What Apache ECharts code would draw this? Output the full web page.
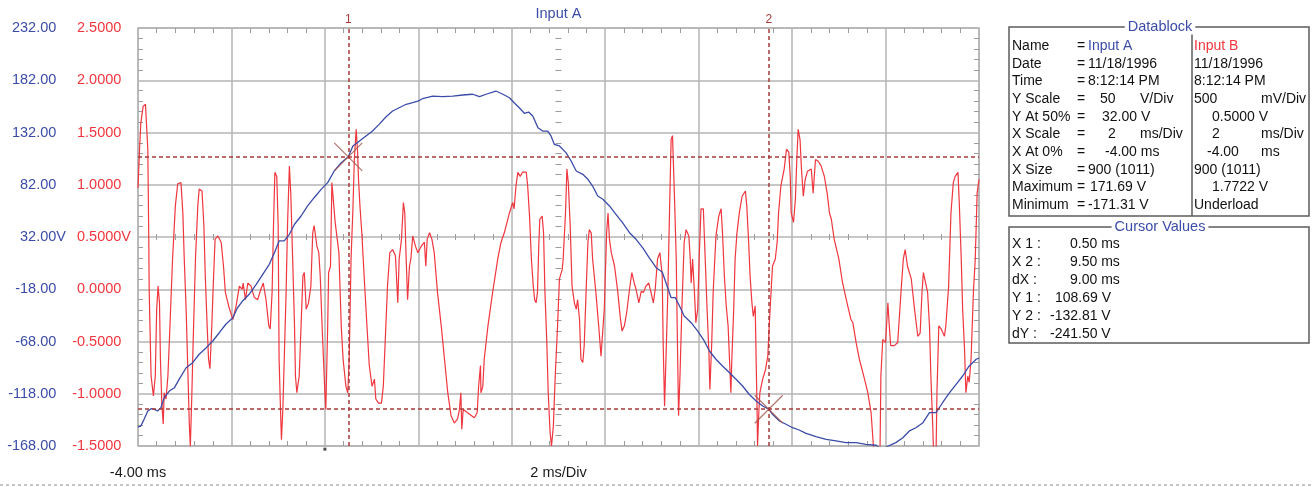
<!DOCTYPE html>
<html lang="en">
<head>
<meta charset="UTF-8">
<title>Input A / Input B</title>
<script src="https://cdn.jsdelivr.net/npm/echarts@6/dist/echarts.min.js"></script>
<style>
    html, body {
        margin: 0;
        padding: 0;
        background: #fff;
    }
    #chart {
        width: 1312px;
        height: 487px;
    }
</style>
</head>
<body>
<div id="chart"></div>
<script>
    // time in ms, Input A in V
    var inputA = [
        [-4.00,-149.8],[-3.94,-148.9],[-3.87,-142.5],[-3.79,-134.5],[-3.72,-132.3],[-3.65,-132.9],[-3.58,-134.5],
        [-3.51,-131.4],[-3.44,-121.8],[-3.33,-115.4],[-3.22,-112.2],[-3.12,-104.2],[-2.97,-93.1],[-2.83,-88.3],
        [-2.69,-80.2],[-2.54,-73.9],[-2.40,-67.5],[-2.26,-59.6],[-2.12,-51.5],[-1.97,-45.2],[-1.87,-35.7],
        [-1.76,-29.2],[-1.62,-22.8],[-1.47,-13.3],[-1.33,-3.7],[-1.19,5.9],[-1.08,17.0],[-0.98,28.2],[-0.87,28.2],
        [-0.76,34.6],[-0.65,44.2],[-0.51,52.1],[-0.37,61.7],[-0.23,69.6],[-0.08,77.6],[0.06,84.0],[0.20,95.2],
        [0.35,103.1],[0.50,108.69],[0.60,119.1],[0.74,123.9],[0.88,128.7],[1.02,133.4],[1.16,139.8],[1.31,147.1],
        [1.45,152.6],[1.59,155.7],[1.74,159.0],[1.88,160.5],[1.99,162.1],[2.09,164.3],[2.31,166.9],[2.52,166.3],
        [2.74,166.9],[2.95,167.9],[3.16,168.6],[3.31,166.3],[3.45,168.6],[3.66,171.69],[3.81,168.6],[3.95,165.3],
        [4.05,160.5],[4.16,155.7],[4.27,150.4],[4.36,151.6],[4.45,147.8],[4.56,136.6],[4.66,133.4],[4.77,133.4],
        [4.84,128.7],[4.91,120.7],[5.02,119.1],[5.16,112.7],[5.27,104.7],[5.38,95.2],[5.52,92.0],[5.63,87.2],
        [5.73,80.8],[5.84,71.2],[5.95,68.1],[6.09,61.7],[6.23,53.7],[6.37,45.7],[6.52,36.1],[6.66,29.8],
        [6.80,21.8],[6.94,12.2],[7.09,2.6],[7.22,-1.5],[7.30,-11.7],[7.41,-26.1],[7.50,-26.1],[7.59,-34.0],
        [7.69,-43.6],[7.84,-50.0],[7.98,-58.0],[8.12,-67.5],[8.23,-77.1],[8.37,-85.0],[8.51,-91.4],[8.66,-97.9],
        [8.80,-104.2],[8.94,-110.6],[9.08,-118.5],[9.23,-124.9],[9.37,-129.7],[9.50,-132.81],[9.58,-137.7],
        [9.73,-144.1],[9.87,-147.2],[10.01,-150.5],[10.15,-152.7],[10.30,-155.9],[10.51,-159.1],[10.73,-161.6],
        [10.94,-163.2],[11.15,-164.8],[11.37,-164.8],[11.58,-166.4],[11.80,-167.3],[11.90,-171.31],[12.01,-169.0],
        [12.22,-164.8],[12.37,-160.1],[12.51,-153.6],[12.65,-150.5],[12.80,-145.7],[12.94,-136.1],[13.08,-136.1],
        [13.22,-126.6],[13.37,-117.0],[13.51,-109.0],[13.65,-101.0],[13.79,-91.4],[13.94,-85.0],[14.00,-83.8]
    ];

    // time in ms, Input B in V
    var inputB = [
        [-4.00,0.97],[-3.97,1.31],[-3.94,1.59],[-3.89,1.75],[-3.84,1.77],[-3.79,1.34],[-3.77,0.51],[-3.76,-0.03],
        [-3.72,-0.83],[-3.67,-1.02],[-3.63,-0.83],[-3.60,-0.19],[-3.57,0.03],[-3.54,-0.13],[-3.52,-0.67],[-3.49,-1.09],
        [-3.46,-1.29],[-3.44,-0.99],[-3.40,-1.05],[-3.36,-0.83],[-3.33,-0.51],[-3.26,0.29],[-3.20,0.80],[-3.15,1.01],
        [-3.08,1.02],[-3.04,0.73],[-3.01,0.29],[-2.97,-0.19],[-2.94,-0.67],[-2.90,-1.31],[-2.88,-1.50],[-2.85,-1.05],
        [-2.82,-0.51],[-2.77,0.29],[-2.72,0.80],[-2.69,0.96],[-2.63,0.94],[-2.59,0.61],[-2.56,0.13],[-2.52,-0.35],
        [-2.49,-0.67],[-2.46,-0.76],[-2.42,-0.35],[-2.39,0.03],[-2.35,0.48],[-2.29,0.51],[-2.22,0.45],[-2.17,0.22],
        [-2.13,-0.03],[-2.06,-0.16],[-1.97,-0.29],[-1.90,-0.16],[-1.83,0.03],[-1.77,0.00],[-1.75,0.06],[-1.70,-0.10],
        [-1.65,0.06],[-1.58,0.03],[-1.51,-0.08],[-1.44,-0.10],[-1.37,0.00],[-1.32,0.06],[-1.26,-0.10],[-1.20,-0.35],
        [-1.17,-0.38],[-1.13,-0.03],[-1.10,0.61],[-1.07,1.12],[-1.03,1.08],[-1.00,0.61],[-0.98,-0.67],[-0.95,-1.15],
        [-0.93,-1.44],[-0.90,-1.15],[-0.87,-0.67],[-0.83,-0.03],[-0.80,0.61],[-0.76,1.18],[-0.73,0.92],[-0.69,0.29],
        [-0.65,-0.35],[-0.63,-0.83],[-0.60,-0.99],[-0.55,-0.83],[-0.51,-0.35],[-0.47,0.13],[-0.44,0.16],[-0.40,-0.19],
        [-0.35,-0.13],[-0.30,0.03],[-0.26,0.54],[-0.23,0.61],[-0.17,0.41],[-0.13,0.35],[-0.10,0.13],[-0.06,-0.35],
        [-0.03,-0.67],[0.00,-0.99],[0.02,-1.15],[0.06,-0.35],[0.08,0.16],[0.12,0.22],[0.15,1.02],[0.18,1.02],
        [0.22,0.64],[0.25,0.64],[0.30,0.35],[0.35,-0.35],[0.39,-0.67],[0.45,-0.93],[0.49,-0.99],[0.52,-0.67],
        [0.56,0.29],[0.60,0.77],[0.63,1.24],[0.67,1.53],[0.70,1.31],[0.72,1.05],[0.75,0.80],[0.79,0.54],
        [0.84,0.13],[0.90,-0.35],[0.95,-0.73],[1.01,-0.93],[1.06,-0.86],[1.09,-1.05],[1.15,-1.09],[1.21,-1.09],
        [1.25,-0.93],[1.29,-0.51],[1.34,0.03],[1.39,0.35],[1.45,0.38],[1.51,0.32],[1.56,-0.13],[1.59,0.29],
        [1.64,0.48],[1.68,0.83],[1.71,0.73],[1.74,0.29],[1.77,-0.10],[1.81,0.22],[1.84,0.29],[1.88,0.51],
        [1.94,0.41],[1.99,0.35],[2.06,0.41],[2.13,0.45],[2.16,0.22],[2.19,0.48],[2.24,0.54],[2.29,0.48],
        [2.34,0.35],[2.41,-0.03],[2.49,-0.35],[2.56,-0.67],[2.63,-0.99],[2.70,-1.21],[2.77,-1.28],[2.84,-1.24],
        [2.88,-1.15],[2.91,-0.99],[2.93,-1.34],[2.96,-1.15],[3.02,-1.17],[3.11,-1.20],[3.20,-1.23],[3.26,-1.18],
        [3.29,-0.93],[3.33,-0.73],[3.34,-0.99],[3.38,-0.93],[3.41,-0.67],[3.49,-0.35],[3.59,-0.03],[3.70,0.29],
        [3.77,0.45],[3.84,0.54],[3.95,0.73],[4.02,0.83],[4.05,0.77],[4.09,0.99],[4.13,1.12],[4.18,1.08],
        [4.23,1.12],[4.31,1.12],[4.34,0.99],[4.38,0.70],[4.42,0.29],[4.46,0.03],[4.49,-0.10],[4.52,-0.13],
        [4.55,-0.03],[4.58,0.45],[4.60,0.67],[4.65,0.70],[4.68,0.54],[4.71,-0.03],[4.75,-0.51],[4.78,-0.99],
        [4.82,-1.37],[4.85,-1.50],[4.89,-1.31],[4.93,-0.83],[4.98,-0.35],[5.02,0.10],[5.08,0.19],[5.10,0.29],
        [5.15,0.73],[5.18,1.15],[5.21,1.02],[5.25,0.61],[5.29,0.03],[5.34,-0.13],[5.38,-0.19],[5.41,-0.10],
        [5.45,-0.29],[5.48,-0.67],[5.52,-0.70],[5.55,-0.54],[5.59,-0.03],[5.63,0.45],[5.66,0.57],[5.70,0.54],
        [5.73,0.29],[5.80,-0.03],[5.86,-0.35],[5.91,-0.64],[5.95,-0.64],[5.98,-0.19],[6.03,0.54],[6.06,0.73],
        [6.09,0.48],[6.13,0.35],[6.20,0.22],[6.27,-0.03],[6.32,-0.26],[6.36,-0.40],[6.41,-0.35],[6.46,-0.22],
        [6.52,0.00],[6.57,0.16],[6.62,0.06],[6.66,0.00],[6.72,-0.13],[6.77,-0.02],[6.82,-0.03],[6.87,0.03],
        [6.93,0.06],[6.98,-0.03],[7.03,-0.13],[7.07,0.00],[7.12,0.29],[7.17,0.35],[7.22,0.13],[7.24,-0.51],
        [7.27,-1.12],[7.30,-0.67],[7.34,-0.03],[7.37,0.61],[7.41,1.43],[7.44,1.47],[7.48,0.92],[7.52,0.29],
        [7.54,-0.35],[7.57,-1.21],[7.60,-0.83],[7.64,-0.19],[7.69,0.45],[7.73,0.57],[7.79,0.51],[7.82,0.29],
        [7.84,0.06],[7.87,0.29],[7.91,-0.03],[7.94,-0.32],[7.98,-0.19],[8.01,0.29],[8.05,0.77],[8.10,0.77],
        [8.14,0.29],[8.18,-0.19],[8.22,-0.61],[8.24,-0.96],[8.28,-0.51],[8.31,-0.03],[8.37,0.51],[8.43,0.70],
        [8.48,0.77],[8.51,0.54],[8.55,0.13],[8.59,-0.16],[8.63,-0.35],[8.66,-0.67],[8.69,-0.99],[8.71,-0.67],
        [8.75,-0.19],[8.78,0.29],[8.82,0.54],[8.87,0.73],[8.93,0.89],[9.00,0.94],[9.03,0.80],[9.07,0.45],
        [9.10,0.13],[9.14,-0.13],[9.17,-0.26],[9.21,-0.16],[9.23,-0.67],[9.25,-1.15],[9.26,-1.50],[9.29,-1.15],
        [9.31,-0.99],[9.37,-0.86],[9.43,-0.77],[9.48,-0.64],[9.51,-0.35],[9.58,0.22],[9.64,0.29],[9.68,0.45],
        [9.71,0.73],[9.76,0.99],[9.83,1.15],[9.88,1.34],[9.93,1.31],[9.96,1.08],[9.98,0.73],[10.03,0.64],
        [10.07,0.86],[10.10,1.24],[10.13,1.53],[10.17,1.43],[10.20,1.15],[10.24,0.89],[10.28,1.05],[10.33,1.13],
        [10.41,1.15],[10.45,0.92],[10.50,1.24],[10.55,1.23],[10.62,1.18],[10.69,1.08],[10.75,0.92],[10.80,0.73],
        [10.84,0.67],[10.87,0.67],[10.90,0.48],[10.94,0.48],[11.00,0.29],[11.08,0.06],[11.19,-0.16],[11.26,-0.29],
        [11.30,-0.32],[11.37,-0.51],[11.44,-0.67],[11.55,-0.86],[11.62,-0.99],[11.69,-1.18],[11.74,-1.50],[11.80,-1.60],
        [11.88,-1.60],[11.90,-0.83],[11.94,-0.48],[12.00,-0.51],[12.05,-0.13],[12.08,-0.35],[12.11,-0.54],[12.19,-0.54],
        [12.26,-0.51],[12.33,-0.03],[12.38,0.29],[12.42,0.38],[12.47,0.22],[12.55,0.10],[12.62,-0.19],[12.69,-0.45],
        [12.74,-0.42],[12.78,-0.03],[12.81,0.16],[12.85,0.16],[12.90,-0.03],[12.94,-0.35],[12.97,-0.83],[13.01,-1.31],
        [13.03,-1.60],[13.08,-1.60],[13.10,-0.99],[13.14,-0.35],[13.19,-0.38],[13.26,-0.45],[13.29,-0.35],[13.35,0.03],
        [13.40,0.73],[13.45,1.02],[13.49,1.08],[13.55,1.12],[13.58,0.80],[13.62,0.29],[13.65,-0.19],[13.69,-0.57],
        [13.72,-0.99],[13.76,-0.83],[13.79,-0.89],[13.83,-0.67],[13.88,-0.03],[13.92,0.29],[13.96,0.92],[14.00,1.05]
    ];

    var blueTicks = [-168, -118, -68, -18, 32, 82, 132, 182, 232];
    var redTicks = [-1.5, -1.0, -0.5, 0.0, 0.5, 1.0, 1.5, 2.0, 2.5];
    var xLabelAt = [-4, 5];
    var xLabels = ['-4.00 ms', '2 ms/Div'];

    var cursorNames = ['1', '2'];
    var cursorX = [0.5, 9.5];
    var cursorY = [108.69, -132.81];
    var triggerAt = [0];

    var dbFields = ['Name', 'Date', 'Time', 'Y Scale', 'Y At 50%', 'X Scale', 'X At 0%', 'X Size', 'Maximum', 'Minimum'];
    var dbInputA = ['Input A', '11/18/1996', '8:12:14 PM', '50', '32.00 V', '2', '-4.00 ms', '900 (1011)', '171.69 V', '-171.31 V'];
    var dbUnitA = ['', '', '', 'V/Div', '', 'ms/Div', '', '', '', ''];
    var dbInputB = ['Input B', '11/18/1996', '8:12:14 PM', '500', '0.5000 V', '2', '-4.00', '900 (1011)', '1.7722 V', 'Underload'];
    var dbUnitB = ['', '', '', 'mV/Div', '', 'ms/Div', 'ms', '', '', ''];

    var cursorFields = ['X 1 :', 'X 2 :', 'dX :', 'Y 1 :', 'Y 2 :', 'dY :'];
    var cursorReadings = ['0.50 ms', '9.50 ms', '9.00 ms', '108.69 V', '-132.81 V', '-241.50 V'];

    var FONT = '"Liberation Sans", Arial, sans-serif';
    var FS = 14.5;
    var PANEL_FS = 14;
    var BLUE = '#3b4ca8';
    var RED = '#f0363e';
    var CURSOR = '#a83a3a';
    var GRID = '#b4b4b4';
    var TICK = '#9c9c9c';

    // layout of the side panel
    var dbValAX = [1088, 1088, 1088, 1100, 1102, 1108, 1105, 1088, 1090, 1088];
    var dbValBX = [1194, 1194, 1194, 1194, 1212, 1212, 1207, 1194, 1212, 1194];
    var cursorValX = [1070, 1070, 1070, 1055, 1050, 1050];

    function txt(x, y, s, color, align, size) {
        return {
            type: 'text', x: x, y: y, silent: true, z: 10,
            style: {
                text: s, fill: color || '#111', fontSize: size || PANEL_FS, fontFamily: FONT,
                align: align || 'left', verticalAlign: 'middle'
            }
        };
    }

    function sameScale(v, a) {
        return Math.abs(v - a) < 1e-9;
    }

    var graphics = [];
    graphics.push(txt(558.5, 14, 'Input A', BLUE, 'center', FS));

    // Datablock
    graphics.push({type: 'rect', silent: true, shape: {x: 1009, y: 27, width: 300, height: 189},
        style: {fill: 'none', stroke: '#5c5c5c', lineWidth: 1.5}});
    graphics.push({type: 'line', silent: true, shape: {x1: 1192, y1: 34, x2: 1192, y2: 216},
        style: {stroke: '#5c5c5c', lineWidth: 1.5}});
    for (var i = 0; i < dbFields.length; i++) {
        var y = 46 + i * 17.67;
        graphics.push(txt(1012, y, dbFields[i]));
        graphics.push(txt(1077, y, '='));
        graphics.push(txt(dbValAX[i], y, dbInputA[i], i === 0 ? BLUE : '#111'));
        if (dbUnitA[i]) graphics.push(txt(1140, y, dbUnitA[i]));
        graphics.push(txt(dbValBX[i], y, dbInputB[i], i === 0 ? RED : '#111'));
        if (dbUnitB[i]) graphics.push(txt(1261, y, dbUnitB[i]));
    }
    var head1 = txt(1160, 27, 'Datablock', BLUE, 'center', FS);
    head1.style.backgroundColor = '#fff';
    head1.style.padding = [0, 3];
    graphics.push(head1);

    // Cursor Values
    graphics.push({type: 'rect', silent: true, shape: {x: 1009, y: 227, width: 300, height: 116},
        style: {fill: 'none', stroke: '#5c5c5c', lineWidth: 1.5}});
    for (var j = 0; j < cursorFields.length; j++) {
        var yy = 244 + j * 18;
        graphics.push(txt(1012, yy, cursorFields[j]));
        graphics.push(txt(cursorValX[j], yy, cursorReadings[j]));
    }
    var head2 = txt(1160, 227, 'Cursor Values', BLUE, 'center', FS);
    head2.style.backgroundColor = '#fff';
    head2.style.padding = [0, 3];
    graphics.push(head2);

    // page separator
    graphics.push({type: 'line', silent: true, shape: {x1: 0, y1: 485, x2: 1312, y2: 485},
        style: {stroke: '#8c8c8c', lineWidth: 1, lineDash: [3, 3]}});

    var frameTicks = {show: true, splitNumber: 5, length: 5, lineStyle: {color: TICK, width: 1}};
    var centerTicks = {show: true, splitNumber: 5, length: 6, lineStyle: {color: TICK, width: 1}};

    var cursorLines = [];
    var cursorMarks = [];
    for (var k = 0; k < cursorX.length; k++) {
        cursorLines.push({xAxis: cursorX[k], name: cursorNames[k]});
        cursorLines.push({yAxis: cursorY[k], label: {show: false}});
        cursorMarks.push([cursorX[k], cursorY[k]]);
    }

    var option = {
        animation: false,
        textStyle: {fontFamily: FONT},
        grid: {left: 138, top: 28, width: 841, height: 418},
        graphic: graphics,
        xAxis: [
            {
                type: 'value', position: 'bottom', min: -4, max: 14, interval: 2,
                axisLine: {show: true, onZero: false, lineStyle: {color: GRID, width: 1.5}},
                axisTick: {show: false, inside: true},
                minorTick: frameTicks,
                splitLine: {show: true, lineStyle: {color: GRID, width: 1.5}},
                axisLabel: {
                    show: true, customValues: xLabelAt, margin: 19, fontSize: FS, color: '#1a1a1a',
                    formatter: function (v) { return xLabels[xLabelAt.indexOf(v)]; }
                }
            },
            {
                type: 'value', position: 'top', min: -4, max: 14, interval: 2,
                axisLine: {show: true, onZero: false, lineStyle: {color: GRID, width: 1.5}},
                axisTick: {show: false, inside: true},
                minorTick: frameTicks,
                splitLine: {show: false},
                axisLabel: {show: false}
            },
            {
                type: 'value', position: 'bottom', offset: -206, min: -4, max: 14, interval: 2,
                axisLine: {show: false, onZero: false},
                axisTick: {show: false, inside: true},
                minorTick: centerTicks,
                splitLine: {show: false},
                axisLabel: {show: false}
            }
        ],
        yAxis: [
            {
                type: 'value', position: 'left', min: -1.5, max: 2.5, interval: 0.5,
                axisLine: {show: true, onZero: false, lineStyle: {color: GRID, width: 1.5}},
                axisTick: {show: false, inside: true},
                minorTick: frameTicks,
                splitLine: {show: true, lineStyle: {color: GRID, width: 1.5}},
                axisLabel: {
                    customValues: redTicks, margin: 7, fontSize: FS,
                    formatter: function (v) {
                        return '{n|' + v.toFixed(4) + '}{' + (sameScale(v, 0.5) ? 'n' : 'h') + '|V}';
                    },
                    rich: {
                        n: {color: RED, fontSize: FS, fontFamily: FONT},
                        h: {color: 'rgba(0,0,0,0)', fontSize: FS, fontFamily: FONT}
                    }
                }
            },
            {
                type: 'value', position: 'left', min: -168, max: 232,
                axisLine: {show: false, onZero: false},
                axisTick: {show: false},
                splitLine: {show: false},
                axisLabel: {
                    customValues: blueTicks, margin: 72, fontSize: FS,
                    formatter: function (v) {
                        return '{n|' + v.toFixed(2) + '}{' + (sameScale(v, 32) ? 'n' : 'h') + '|V}';
                    },
                    rich: {
                        n: {color: BLUE, fontSize: FS, fontFamily: FONT},
                        h: {color: 'rgba(0,0,0,0)', fontSize: FS, fontFamily: FONT}
                    }
                }
            },
            {
                type: 'value', position: 'right', min: -1.5, max: 2.5, interval: 0.5,
                axisLine: {show: true, onZero: false, lineStyle: {color: GRID, width: 1.5}},
                axisTick: {show: false, inside: true},
                minorTick: frameTicks,
                splitLine: {show: false},
                axisLabel: {show: false}
            },
            {
                type: 'value', position: 'left', offset: -417.5, min: -1.5, max: 2.5, interval: 0.5,
                axisLine: {show: false, onZero: false},
                axisTick: {show: false, inside: true},
                minorTick: centerTicks,
                splitLine: {show: false},
                axisLabel: {show: false}
            }
        ],
        series: [
            {
                name: 'Input B', type: 'line', xAxisIndex: 0, yAxisIndex: 0,
                data: inputB, symbol: 'none', z: 2,
                lineStyle: {color: RED, width: 1.2}, itemStyle: {color: RED}
            },
            {
                name: 'Input A', type: 'line', xAxisIndex: 0, yAxisIndex: 1,
                data: inputA, symbol: 'none', z: 3,
                lineStyle: {color: BLUE, width: 1.3}, itemStyle: {color: BLUE},
                markLine: {
                    silent: true, symbol: ['none', 'none'],
                    lineStyle: {color: CURSOR, type: [4, 3], width: 1.5},
                    label: {show: true, position: 'end', distance: 2, formatter: '{b}', color: CURSOR, fontSize: 12},
                    emphasis: {disabled: true},
                    data: cursorLines
                }
            },
            {
                type: 'scatter', xAxisIndex: 0, yAxisIndex: 1, z: 4, silent: true,
                data: cursorMarks,
                symbol: 'path://M0,0L10,10M10,0L0,10', symbolSize: 28,
                itemStyle: {color: 'none', borderColor: '#a0524a', borderWidth: 1.2}
            },
            {
                type: 'scatter', xAxisIndex: 0, yAxisIndex: 1, z: 4, silent: true, clip: false,
                data: triggerAt.map(function (t) { return [t, -171]; }),
                symbol: 'rect', symbolSize: 3,
                itemStyle: {color: '#222'}
            }
        ]
    };

    var myChart = echarts.init(document.getElementById('chart'));
    myChart.setOption(option);
</script>
</body>
</html>
